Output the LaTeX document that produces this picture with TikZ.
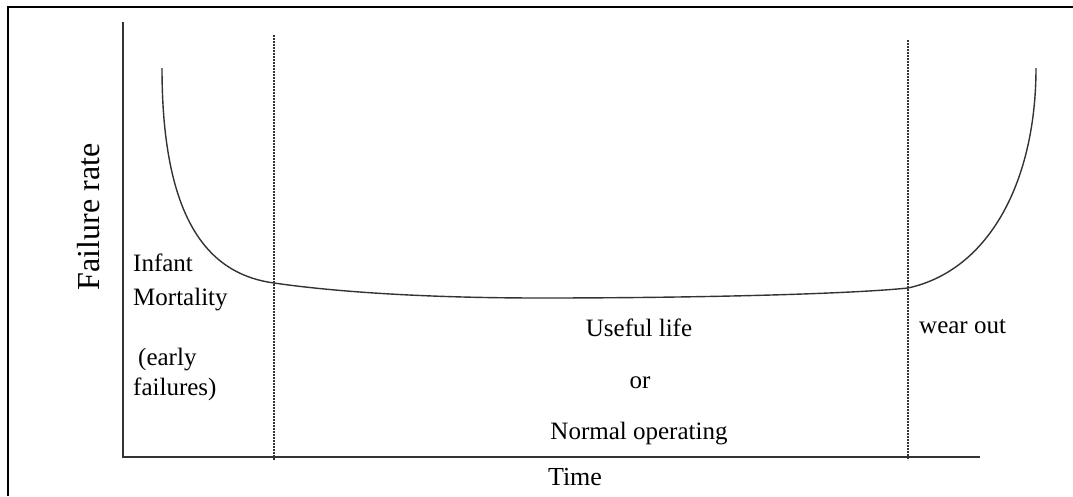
\documentclass[tikz,border=0pt]{standalone}
\usepackage{fontspec}
\setmainfont{Liberation Serif}
\begin{document}
\begin{tikzpicture}[x=1pt,y=-1pt,
  frame/.style={line width=2pt,black},
  axis/.style={line width=1.3pt,black!80},
  sep/.style={line width=1.3pt,black!80,dash pattern=on 2pt off 1pt},
  curve/.style={line width=1.4pt,black!80},
  lbl/.style={inner sep=0pt,font=\fontsize{25}{30}\selectfont},
]
\useasboundingbox (0,0) rectangle (1073,496);
% frame
\draw[frame] (8,496) -- (8,7) -- (1073,7);
% axes
\coordinate (o) at (123,457);
\coordinate (ytop) at (123,22);
\coordinate (xend) at (980,457);
\draw[axis] (ytop) -- (o) -- (xend);
% separators
\coordinate (s1t) at (274,35);
\coordinate (s1b) at (274,460);
\coordinate (s2t) at (908,40);
\coordinate (s2b) at (908,460);
\draw[sep] (s1t) -- (s1b);
\draw[sep] (s2t) -- (s2b);
% bathtub curve
\draw[curve] (162,68) .. controls (162,230) and (215,275) .. (274,283)
  .. controls (350,294) and (450,298) .. (540,298)
  .. controls (700,298) and (850,294) .. (908,288)
  .. controls (990,270) and (1036,180) .. (1036,68);
% labels
\node[lbl,anchor=base,rotate=90,font=\fontsize{32}{36}\selectfont] (ylab) at (99,217) {Failure rate};
\node[lbl,anchor=base,font=\fontsize{26}{30}\selectfont] (xlab) at (575,485) {Time};
\node[lbl,anchor=base west] (inf1) at (133,271) {Infant};
\node[lbl,anchor=base west] (inf2) at (133,305) {Mortality};
\node[lbl,anchor=base west] (inf3) at (138,365) {(early};
\node[lbl,anchor=base west] (inf4) at (133,395) {failures)};
\node[lbl,anchor=base] (use1) at (639,336) {Useful life};
\node[lbl,anchor=base] (use2) at (640,388) {or};
\node[lbl,anchor=base] (use3) at (639,439) {Normal operating};
\node[lbl,anchor=base west] (wear) at (919,333) {wear out};
\end{tikzpicture}
\end{document}
